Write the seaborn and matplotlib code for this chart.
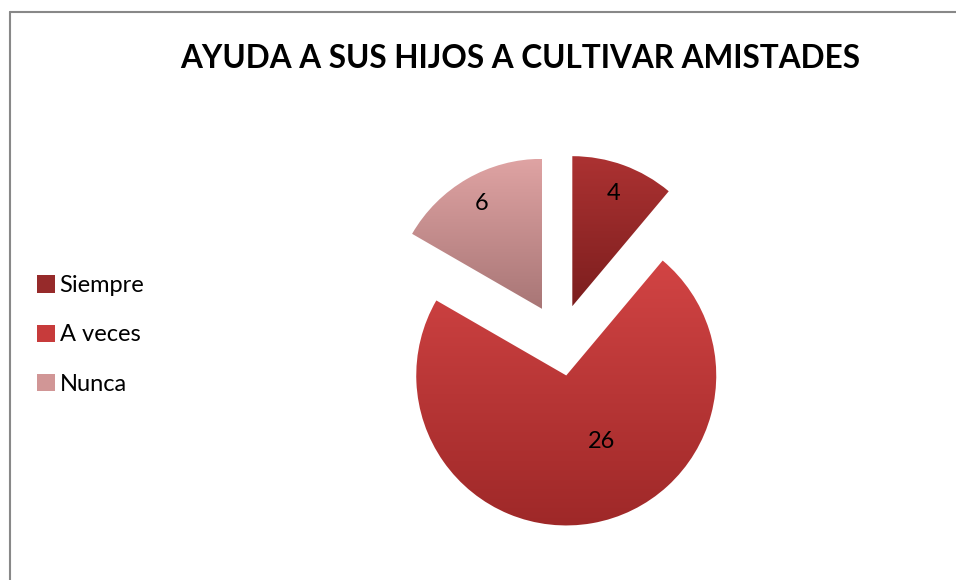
import numpy as np
import seaborn as sns
import matplotlib.pyplot as plt
from matplotlib.patches import Patch
from matplotlib.lines import Line2D
from matplotlib.colors import LinearSegmentedColormap

# datos del grafico
categorias = ["Siempre", "A veces", "Nunca"]
valores = [4, 26, 6]
color_arriba = ["#AC3232", "#D24444", "#DFA3A3"]
color_abajo = ["#7C1E1E", "#9E2828", "#A87676"]
color_leyenda = ["#962A2A", "#C73B3B", "#D19696"]

sns.set_style("white")
plt.rcParams['font.family'] = ['Lato', 'DejaVu Sans']
plt.rcParams['text.color'] = 'black'

fig = plt.figure(figsize=(9.56, 5.8), dpi=100)

# pie: centro (560,340) px, radio 150 px
W, H = 956, 580
cx, cy, r = 560, 340, 150
half = 1.5 * r
ax = fig.add_axes([(cx - half) / W, (H - cy - half) / H, 2 * half / W, 2 * half / H])

wedges, _ = ax.pie(valores, startangle=90, counterclock=False,
                   explode=[0.24, 0.24, 0.24], radius=1,
                   wedgeprops=dict(linewidth=0))

# degradado vertical dentro de cada porcion
for w, c1, c2 in zip(wedges, color_arriba, color_abajo):
    verts = w.get_path().vertices
    x0, y0 = verts.min(axis=0)
    x1, y1 = verts.max(axis=0)
    cmap = LinearSegmentedColormap.from_list("g", [c2, c1])
    grad = np.linspace(0, 1, 256).reshape(-1, 1)
    im = ax.imshow(grad, cmap=cmap, origin="lower", aspect="auto",
                   extent=[x0, x1, y0, y1], zorder=2)
    im.set_clip_path(w)
    w.set_facecolor("none")

# etiquetas de valores
dist = [0.8, 0.5, 0.81]
giro = [0, 18, 0]
for w, v, d, g in zip(wedges, valores, dist, giro):
    mid = np.deg2rad((w.theta1 + w.theta2) / 2 + g)
    ccx, ccy = w.center
    ax.text(ccx + d * np.cos(mid), ccy + d * np.sin(mid), str(v),
            ha="center", va="center", fontsize=17, color="black", zorder=3)

ax.set_xlim(-1.5, 1.5)
ax.set_ylim(-1.5, 1.5)
ax.set_aspect("equal")
ax.axis("off")

fig.text(520 / W, 1 - 58 / H, "AYUDA A SUS HIJOS A CULTIVAR AMISTADES",
         ha="center", va="center", fontsize=22.7, fontweight="bold", color="black")

handles = [Patch(facecolor=c, edgecolor="none") for c in color_leyenda]
fig.legend(handles, categorias, loc="center left", bbox_to_anchor=(16 / W, 1 - 335 / H),
           frameon=False, fontsize=17, handlelength=0.75, handleheight=0.75,
           handletextpad=0.2, labelspacing=1.2, labelcolor="black")

# borde del grafico
fig.add_artist(Line2D([10 / W, 1], [1 - 12 / H, 1 - 12 / H], color="#888888", lw=1.5))
fig.add_artist(Line2D([10 / W, 10 / W], [0, 1 - 12 / H], color="#888888", lw=1.5))

fig.savefig("out.png", dpi=100)
